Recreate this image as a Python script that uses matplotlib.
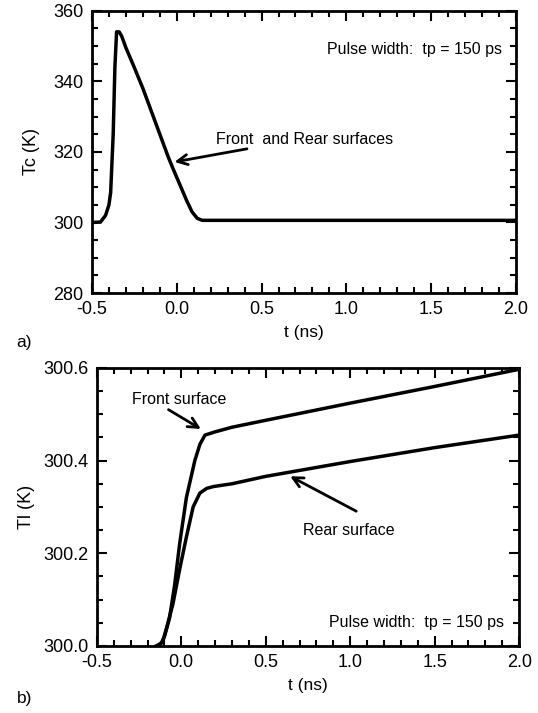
import numpy as np
import matplotlib.pyplot as plt
from matplotlib.ticker import MultipleLocator

plt.rcParams['font.family'] = ['Liberation Sans', 'DejaVu Sans']

# a) carrier temperature, front and rear surfaces (same curve)
tc_t = [-0.5, -0.45, -0.42, -0.40, -0.39, -0.375, -0.365, -0.355, -0.34,
        -0.325, -0.30, -0.26, -0.2, -0.15, -0.1, -0.05, -0.02, 0.02,
        0.06, 0.09, 0.12, 0.15, 0.5, 1.0, 1.5, 2.0]
tc_T = [300.0, 300.1, 302.0, 305.0, 308.5, 325.0, 344.0, 354.0, 354.0,
        352.8, 349.5, 345.0, 338.0, 331.5, 325.0, 318.5, 315.0, 310.5,
        306.0, 303.0, 301.2, 300.6, 300.6, 300.6, 300.6, 300.6]

# b) lattice temperature
front_t = [-0.15, -0.12, -0.1, -0.07, -0.04, -0.01, 0.03, 0.08, 0.11, 0.14,
           0.2, 0.3, 0.5, 1.0, 1.5, 2.0]
front_T = [300.0, 300.005, 300.02, 300.06, 300.13, 300.22, 300.32, 300.40,
           300.435, 300.455, 300.462, 300.472, 300.487, 300.524, 300.56, 300.597]
rear_t = [-0.14, -0.11, -0.09, -0.05, -0.01, 0.03, 0.07, 0.11, 0.15, 0.19,
          0.3, 0.5, 1.0, 1.5, 2.0]
rear_T = [300.0, 300.01, 300.035, 300.09, 300.165, 300.235, 300.30, 300.33,
          300.34, 300.344, 300.35, 300.366, 300.398, 300.428, 300.455]


def style(ax):
    for s in ax.spines.values():
        s.set_linewidth(2)
    ax.tick_params(which='both', direction='in', top=True, right=True,
                   labelsize=13, width=1.5, pad=6)
    ax.tick_params(which='major', length=7)
    ax.tick_params(which='minor', length=4)
    ax.set_xlim(-0.5, 2.0)
    ax.xaxis.set_major_locator(MultipleLocator(0.5))
    ax.xaxis.set_minor_locator(MultipleLocator(0.1))
    ax.xaxis.set_major_formatter(plt.FormatStrFormatter('%.1f'))
    ax.set_xlabel('t (ns)', fontsize=12.5, labelpad=5)


fig = plt.figure(figsize=(5.38, 7.13), dpi=100)
ax1 = fig.add_axes([0.171, 0.589, 0.788, 0.396])
ax2 = fig.add_axes([0.180, 0.094, 0.785, 0.390])

ax1.plot(tc_t, tc_T, color='black', lw=2.5)
style(ax1)
ax1.set_ylim(280, 360)
ax1.yaxis.set_major_locator(MultipleLocator(20))
ax1.yaxis.set_minor_locator(MultipleLocator(5))
ax1.set_ylabel('Tc (K)', fontsize=13, labelpad=10)
ax1.text(1.92, 349, 'Pulse width:  tp = 150 ps', ha='right', va='center', fontsize=11.5)
ax1.text(0.23, 323.5, 'Front  and Rear surfaces', ha='left', va='center', fontsize=11.5)
ax1.annotate('', xy=(-0.03, 317), xytext=(0.43, 321),
             arrowprops=dict(arrowstyle='->', lw=2, mutation_scale=18, color='black'))

ax2.plot(front_t, front_T, color='black', lw=2.5)
ax2.plot(rear_t, rear_T, color='black', lw=2.5)
style(ax2)
ax2.set_ylim(300.0, 300.6)
ax2.yaxis.set_major_locator(MultipleLocator(0.2))
ax2.yaxis.set_minor_locator(MultipleLocator(0.05))
ax2.yaxis.set_major_formatter(plt.FormatStrFormatter('%.1f'))
ax2.set_ylabel('Tl (K)', fontsize=13, labelpad=6)
ax2.text(-0.29, 300.531, 'Front surface', ha='left', va='center', fontsize=11.5)
ax2.annotate('', xy=(0.13, 300.465), xytext=(-0.09, 300.513),
             arrowprops=dict(arrowstyle='->', lw=2, mutation_scale=18, color='black'))
ax2.text(0.72, 300.25, 'Rear surface', ha='left', va='center', fontsize=11.5)
ax2.annotate('', xy=(0.63, 300.369), xytext=(1.05, 300.288),
             arrowprops=dict(arrowstyle='->', lw=2, mutation_scale=18, color='black'))
ax2.text(1.91, 300.05, 'Pulse width:  tp = 150 ps', ha='right', va='center', fontsize=11.5)

fig.text(0.045, 0.519, 'a)', fontsize=12.5, ha='center', va='center')
fig.text(0.045, 0.021, 'b)', fontsize=12.5, ha='center', va='center')

fig.savefig('out.png', dpi=100)
